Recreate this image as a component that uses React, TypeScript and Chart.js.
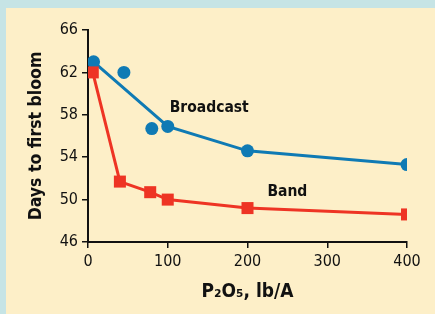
import React, { useEffect, useRef } from "react";
import { Chart, registerables } from "chart.js";

Chart.register(...registerables);

// Data
const bandX = [6, 40, 78, 100, 200, 400];
const bandY = [62.0, 51.7, 50.7, 50.0, 49.2, 48.6];
const broadcastLineX = [7, 100, 200, 400];
const broadcastLineY = [63.0, 56.9, 54.6, 53.3];
const broadcastExtraX = [45, 80];
const broadcastExtraY = [62.0, 56.7];
const yTicks = [46, 50, 54, 58, 62, 66];
const xTicks = [0, 100, 200, 300, 400];
const seriesNames = ["Band", "Broadcast"];

const BLUE = "#0f7ab4";
const RED = "#ee3424";
const FONT = "'Liberation Sans Narrow', 'DejaVu Sans Condensed', 'Liberation Sans', Arial, sans-serif";

const labelPlugin = {
  id: "seriesLabels",
  afterDatasetsDraw(chart: any) {
    const { ctx, scales } = chart;
    const xs = scales.x;
    const ys = scales.y;
    ctx.save();
    ctx.fillStyle = "#111";
    ctx.font = `bold 15.5px ${FONT}`;
    ctx.textAlign = "center";
    ctx.textBaseline = "middle";
    ctx.fillText(seriesNames[1], xs.getPixelForValue(152), ys.getPixelForValue(58.6));
    ctx.fillText(seriesNames[0], xs.getPixelForValue(250), ys.getPixelForValue(50.7));
    ctx.restore();
  },
};

export default function App() {
  const ref = useRef<HTMLCanvasElement>(null);
  useEffect(() => {
    document.body.style.margin = "0";
    const chart = new Chart(ref.current!, {
      type: "line",
      data: {
        datasets: [
          {
            label: seriesNames[0],
            data: bandX.map((x, i) => ({ x, y: bandY[i] })),
            borderColor: RED,
            backgroundColor: RED,
            borderWidth: 3,
            pointStyle: "rect",
            pointRadius: 8.5,
            pointBorderWidth: 0,
            tension: 0,
          },
          {
            label: seriesNames[1],
            data: broadcastLineX.map((x, i) => ({ x, y: broadcastLineY[i] })),
            borderColor: BLUE,
            backgroundColor: BLUE,
            borderWidth: 3,
            pointStyle: "circle",
            pointRadius: 6.5,
            pointBorderWidth: 0,
            tension: 0,
          },
          {
            label: seriesNames[1] + " (other)",
            data: broadcastExtraX.map((x, i) => ({ x, y: broadcastExtraY[i] })),
            borderColor: BLUE,
            backgroundColor: BLUE,
            showLine: false,
            pointStyle: "circle",
            pointRadius: 6.5,
            pointBorderWidth: 0,
          },
        ],
      },
      options: {
        animation: false,
        responsive: false,
        maintainAspectRatio: false,
        layout: { padding: { left: 0, top: 22, right: 28, bottom: 0 } },
        plugins: { legend: { display: false }, tooltip: { enabled: false } },
        scales: {
          x: {
            type: "linear",
            min: 0,
            max: 400,
            afterBuildTicks: (s: any) => {
              s.ticks = xTicks.map((v) => ({ value: v }));
            },
            afterFit: (s: any) => {
              s.height = 72;
            },
            grid: {
              display: true,
              drawOnChartArea: false,
              drawTicks: true,
              tickLength: 6,
              color: "#111",
              lineWidth: 1.5,
            },
            border: { display: true, color: "#111", width: 2 },
            ticks: {
              color: "#111",
              font: { family: FONT, size: 16 },
              padding: 4,
              maxRotation: 0,
            },
            title: {
              display: true,
              text: "P₂O₅, lb/A",
              color: "#111",
              font: { family: FONT, size: 19, weight: "bold" },
              padding: { top: 0, bottom: 11 },
            },
          },
          y: {
            type: "linear",
            min: 46,
            max: 66,
            afterBuildTicks: (s: any) => {
              s.ticks = yTicks.map((v) => ({ value: v }));
            },
            afterFit: (s: any) => {
              s.width = 82;
            },
            grid: {
              display: true,
              drawOnChartArea: false,
              drawTicks: true,
              tickLength: 6,
              color: "#111",
              lineWidth: 1.5,
            },
            border: { display: true, color: "#111", width: 2 },
            ticks: {
              color: "#111",
              font: { family: FONT, size: 16 },
              padding: 4,
            },
            title: {
              display: true,
              text: "Days to first bloom",
              color: "#111",
              font: { family: FONT, size: 17.5, weight: "bold" },
              padding: { top: 20, bottom: 0 },
            },
          },
        },
      },
      plugins: [labelPlugin],
    });
    return () => chart.destroy();
  }, []);

  return (
    <div
      style={{
        position: "absolute",
        left: 0,
        top: 0,
        width: 435,
        height: 314,
        background: "#c6e4e5",
        overflow: "hidden",
      }}
    >
      <div
        style={{
          position: "absolute",
          left: 6,
          top: 8,
          width: 429,
          height: 306,
          background: "#fdefc8",
        }}
      >
        <canvas ref={ref} width={429} height={306} style={{ display: "block" }} />
      </div>
    </div>
  );
}
